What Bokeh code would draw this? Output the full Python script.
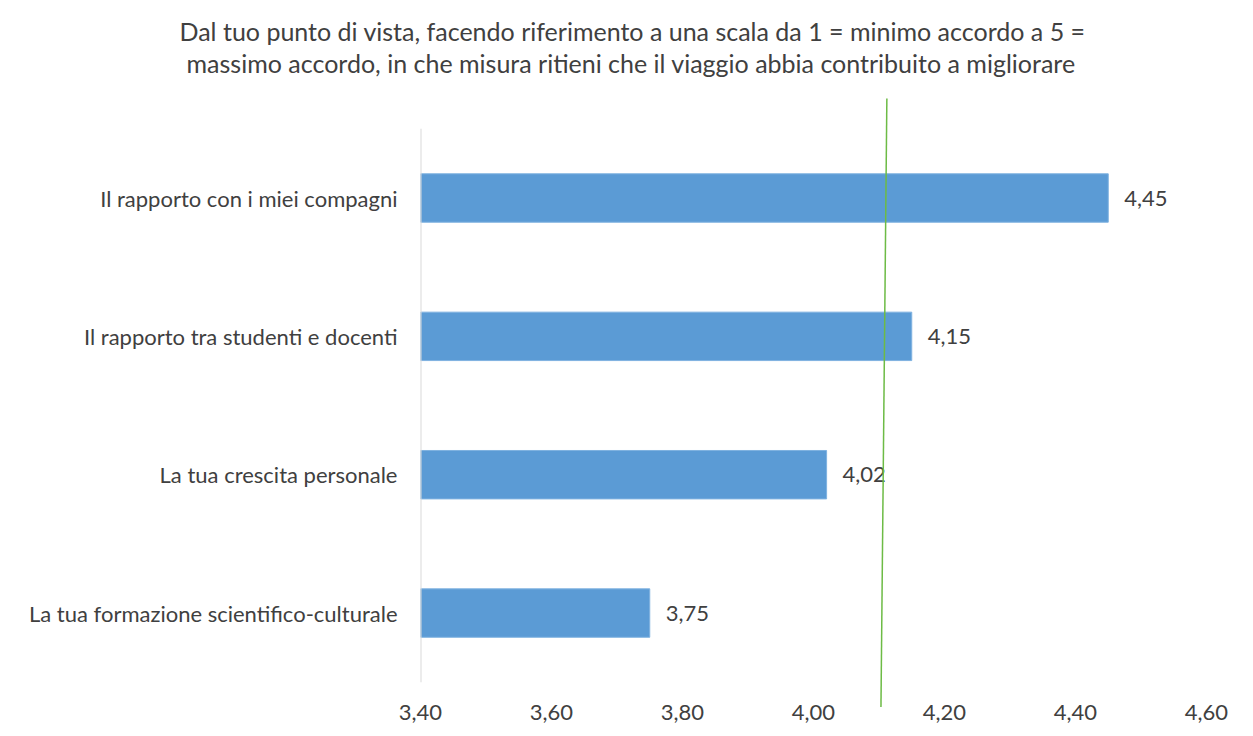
from bokeh.plotting import figure
from bokeh.models import Range1d, FixedTicker, CustomJSTickFormatter, ColumnDataSource, Title
from bokeh.core.properties import value
from bokeh.embed import file_html
from bokeh.resources import INLINE

# ---- data ----
categories = [
    "La tua formazione scientifico-culturale",
    "La tua crescita personale",
    "Il rapporto tra studenti e docenti",
    "Il rapporto con i miei compagni",
]
scores = [3.75, 4.02, 4.15, 4.45]
x_ticks = [3.40, 3.60, 3.80, 4.00, 4.20, 4.40, 4.60]
mean_line_x = [4.112, 4.103]  # hand-drawn reference line (top, bottom)
title_lines = [
    "Dal tuo punto di vista, facendo riferimento a una scala da 1 = minimo accordo a 5 =",
    "massimo accordo, in che misura ritieni che il viaggio abbia contribuito a migliorare",
]

FONT = "Lato"
TXT = "#404040"

positions = list(range(len(categories)))
labels = [f"{v:.2f}".replace(".", ",") for v in scores]

src = ColumnDataSource(dict(y=positions, right=scores, label=labels))

p = figure(
    width=1253, height=736,
    x_range=Range1d(x_ticks[0], x_ticks[-1]),
    y_range=Range1d(-0.690, 3.7265),
    output_backend="svg", toolbar_location=None,
    min_border_left=420, min_border_right=47,
    min_border_top=97, min_border_bottom=28,
)
p.outline_line_color = None
p.xgrid.grid_line_color = None
p.ygrid.grid_line_color = None

# bars
p.hbar(y="y", left=x_ticks[0], right="right", height=0.35, source=src,
       fill_color="#5B9BD5", line_color="#7FB2E0", line_width=1)

# value labels
p.text(x="right", y="y", text="label", source=src, x_offset=16,
       text_align="left", text_baseline="middle",
       text_font=value(FONT), text_font_size="22px", text_color=TXT)

# category axis line (light grey)
p.segment(x0=[x_ticks[0]], y0=[-0.5], x1=[x_ticks[0]], y1=[len(categories) - 0.5],
          line_color="#d9d9d9", line_width=2)

# green reference line
p.segment(x0=[mean_line_x[0]], y0=[3.72], x1=[mean_line_x[1]], y1=[-0.68],
          line_color="#6DBB45", line_width=1.5)

# axes
xa = p.xaxis[0]
xa.ticker = FixedTicker(ticks=x_ticks)
xa.formatter = CustomJSTickFormatter(code="return tick.toFixed(2).replace('.', ',');")
xa.axis_line_color = None
xa.major_tick_line_color = None
xa.minor_tick_line_color = None
xa.major_tick_out = 0
xa.major_label_standoff = -4
xa.major_label_text_font = FONT
xa.major_label_text_font_size = "22px"
xa.major_label_text_color = TXT

ya = p.yaxis[0]
ya.ticker = FixedTicker(ticks=positions)
ya.major_label_overrides = {i: c for i, c in zip(positions, categories)}
ya.axis_line_color = None
ya.major_tick_line_color = None
ya.minor_tick_line_color = None
ya.major_tick_out = 0
ya.major_label_standoff = 23
ya.major_label_text_font = FONT
ya.major_label_text_font_size = "22px"
ya.major_label_text_color = TXT

# spacer between the title and the plot area
p.add_layout(Title(text=" ", standoff=17, text_font_size="1px"), "above")
# title (two lines; the last added sits on top)
for line, off in [(title_lines[1], -234), (title_lines[0], -241)]:
    p.add_layout(Title(text=line, align="left", offset=off, standoff=0,
                       text_font=FONT, text_font_size="25px",
                       text_font_style="normal", text_color=TXT), "above")

open("out.html", "w").write(file_html(p, INLINE))
